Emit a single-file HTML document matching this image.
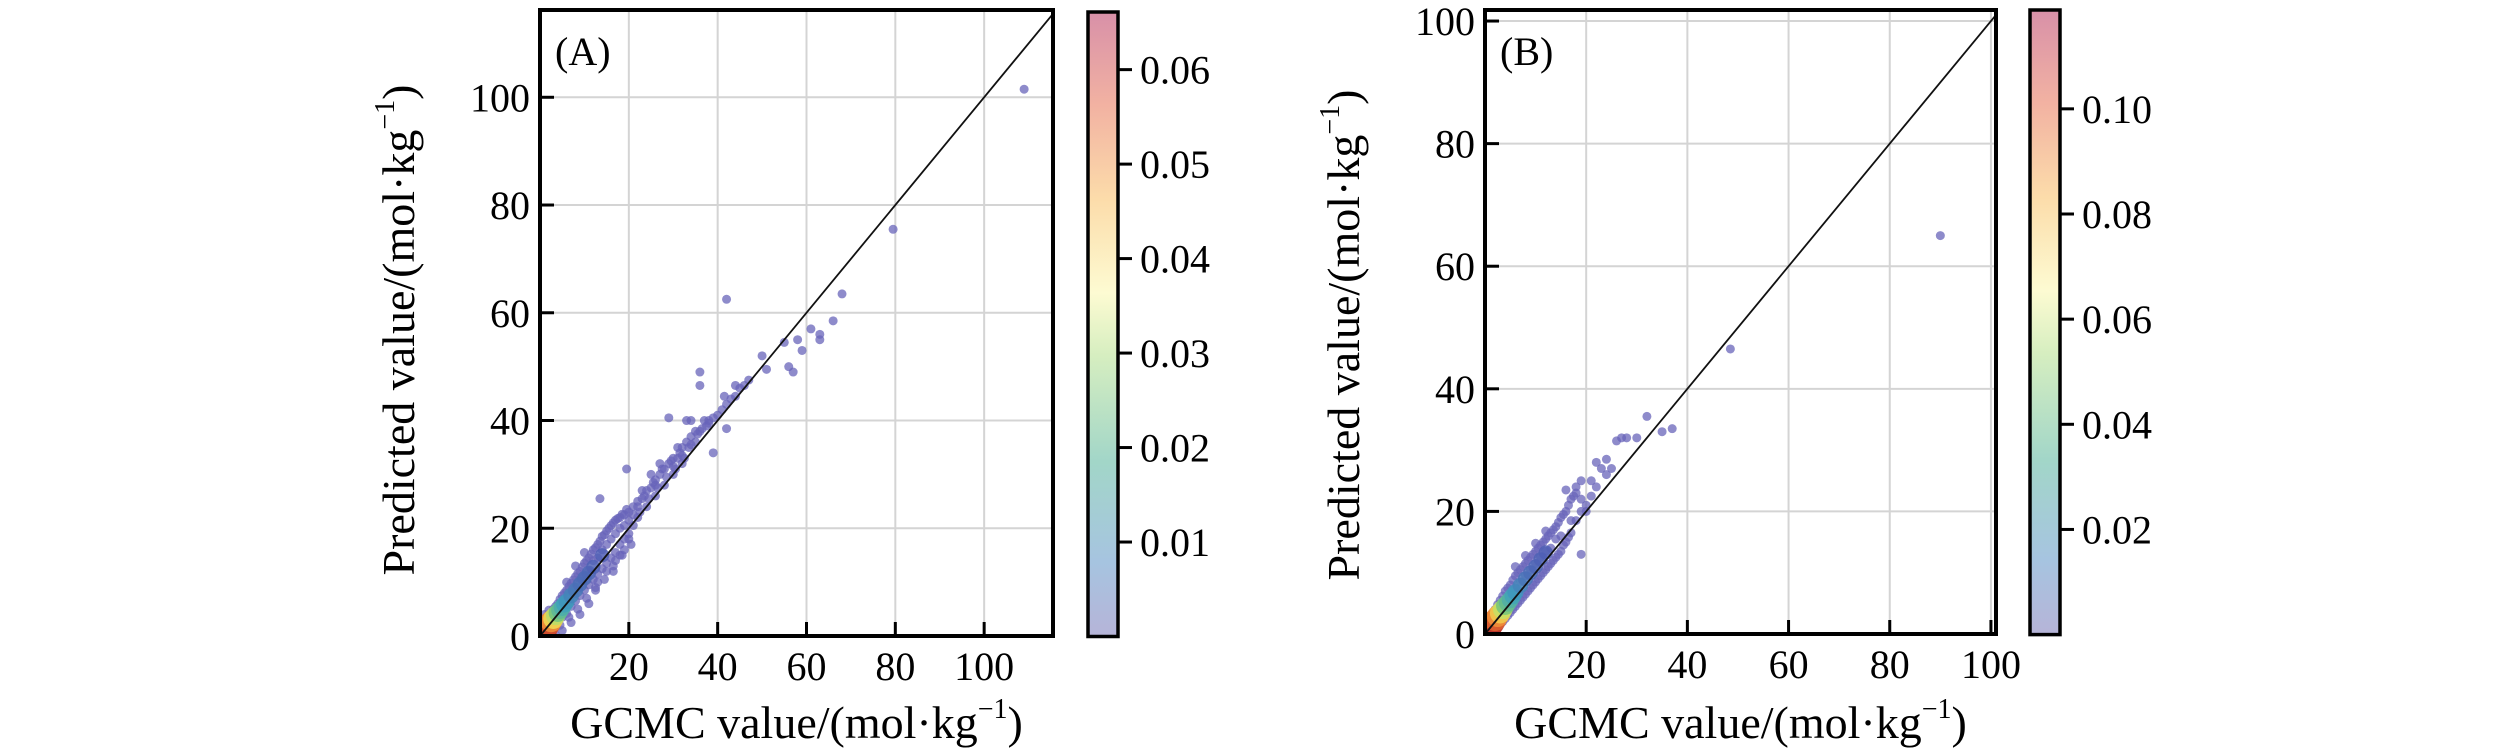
<!DOCTYPE html>
<html><head><meta charset="utf-8"><style>
body{margin:0;background:#fff;width:2520px;height:756px;overflow:hidden}
svg{display:block}
text{font-family:"Liberation Serif",serif;fill:#000}
</style></head><body>
<svg id="fig" width="2520" height="756" xmlns="http://www.w3.org/2000/svg">
<defs>
<linearGradient id="cmap" x1="0" y1="1" x2="0" y2="0">
<stop offset="0" stop-color="#b6b4d8"/><stop offset="0.12" stop-color="#a6c4e0"/><stop offset="0.28" stop-color="#a2d6c8"/>
<stop offset="0.45" stop-color="#d6eec0"/><stop offset="0.55" stop-color="#fdfbd2"/><stop offset="0.7" stop-color="#fcdcaa"/>
<stop offset="0.85" stop-color="#f2b2a2"/><stop offset="1" stop-color="#d890a8"/></linearGradient>
</defs>
</svg>
<script>
const aXTicks=[20,40,60,80,100], aYTicks=[0,20,40,60,80,100], aCbTicks=[0.01,0.02,0.03,0.04,0.05,0.06];
const bXTicks=[20,40,60,80,100], bYTicks=[0,20,40,60,80,100], bCbTicks=[0.02,0.04,0.06,0.08,0.10];
const aCore=[[0.5,0.6,.066],[1,1.1,.065],[1.5,1.6,.062],[2,2.2,.058],[2.5,2.7,.05],[3,3.2,.042],[3.5,3.8,.035],[4,4.3,.028],[4.5,4.8,.024],[5,5.3,.02],[5.5,5.9,.017],[6,6.4,.014],[7,7.5,.01],[8,8.5,.007],[9,9.6,.005],[10,10.7,.004],[11,11.7,.003],[12,12.8,.002],[14,15,.001]];
const aCloud=[[1,2.5],[1.5,0.3],[2,3.8],[2.5,1],[3,5],[3,1.5],[4,6],[4,2.5],[5,7.5],[5,3.5],[6,8.5],[6,4.2],[7,9.8],[7,5.5],[8,11],[8,6.5],[9,12],[9,7.5],[10,13.5],[10,8.5],[11,14.5],[11,9.5],[12,16],[12,10.5],[13,17],[13,11.5],[14,18.5],[14,12.5],[15,19.5],[15,13.5],[16,20.5],[16,14.5],[17,21.5],[17,15.5],[18,22],[18,17],[19,22.5],[19,18],[20,23],[20,19],[21,24],[21,20.5],[22,25],[22,22],[24,27],[24,24],[26,29],[26,26],[28,31],[28,28],[30,33],[30,30],[32,35],[32,32],[34,37],[35,36],[37,40],[38,40],[40,41],[42,43],[45,46],[47,47.5],[13.5,25.5],[19.5,31],[34,40],[36,49],[36,46.5],[42,62.5],[39,34],[42,38.5],[41.5,44.5],[44,46.5],[50,52],[51,49.5],[55,54.5],[56,50],[57,49],[58,55],[59,53],[61,57],[63,56],[63,55],[66,58.5],[68,63.5],[79.5,75.5],[109,101.5],[29,40.5],[33,40],[31,35],[27,32],[25,30],[23,27],[20,18],[19,16],[18,15],[16.5,13],[11,6],[12.5,9],[9,4],[7,2.5],[5,1],[3.5,0.2],[2,4.8],[1,4],[6,10],[8,13],[10,15.5],[22,24],[26,28],[30,31.5],[32,33.5],[34,35.5],[36,38],[38,39.5],[14,16],[16,18],[18,20],[12,14],[10,11],[8,9],[13,10],[15,12],[17,14],[20,21.5],[21,22.5],[23,25.5],[25,27.5],[27,30],[29,32],[31,33],[33,36],[35,38],[11,12],[13,14.5],[15,17],[17,19],[19,20.5],[9,10.5],[7,8],[5,6],[4,4.8],[3,3.8],[1.5,3.2],[2.5,4.3],[3.5,5.5],[4.5,6.8],[5.5,8],[6.5,9.2],[7.5,10.4],[8.5,11.6],[9.5,12.8],[10.5,14],[11.5,15.2],[12.5,16.4],[13.5,17.6],[14.5,18.8],[15.5,20],[16.5,21],[17.5,21.8],[18.5,22.6],[19.5,23.5],[2.5,0.5],[4.5,2],[6.5,3.5],[8.5,5],[10.5,7],[12.5,8.5],[14.5,10.5],[16.5,12],[18.5,15],[20.5,17],[22.5,23],[23.5,26],[24.5,25.5],[25.5,28.5],[26.5,27.5],[27.5,31],[28.5,29.5],[29.5,32.5],[30.5,31],[31.5,34],[32.5,33],[33.5,35],[35.5,37.5],[36.5,38.5],[37.5,39],[39,40.5],[41,42],[43,44],[44,44.5],[46,46.5]];
const bCore=[[0.5,0.6,.118],[1,1.1,.115],[1.5,1.7,.11],[2,2.3,.1],[2.5,2.9,.09],[3,3.4,.078],[3.5,4,.065],[4,4.6,.052],[4.5,5.1,.045],[5,5.6,.038],[5.5,6.2,.032],[6,6.8,.026],[7,7.9,.018],[8,9,.012],[9,10,.008],[10,11,.005],[11,12.2,.003],[12,13.3,.002]];
const bCloud=[[1,2.5],[1.5,0.3],[2,4],[2.5,1],[3,5.5],[3,1.5],[4,7],[4,2.5],[5,8],[5,3.5],[6,9.5],[6,4.5],[7,10.5],[7,5.5],[8,11.5],[8,6.5],[9,12.5],[9,7.5],[10,13.5],[10,8.5],[11,14.5],[11,9.5],[12,15.5],[12,10.5],[13,16.5],[13,11.5],[14,17.5],[14,12.5],[15,19],[15,13.5],[16,20],[16,15],[17,22],[17,16.5],[18,23],[18,18.5],[19,25],[19,20],[20,21],[21,22.5],[22,28],[22,24],[24,26],[24,28.5],[25,27],[26,31.5],[27,32],[28,32],[30,32],[32,35.5],[35,33],[37,33.5],[48.5,46.5],[90,65],[19,13],[16,23.5],[18,24],[20,20],[13,14],[11,12.5],[9,10.5],[7,8.5],[5,6.5],[3,4],[15,16],[17,18.5],[14,15.5],[12,13.5],[10,11.5],[8,9.5],[6,7.5],[4,5],[21,25],[23,27],[19,22],[6,11],[8,12.8],[10,14.8],[12,16.8],[1.5,3.3],[2.5,4.8],[3.5,6.2],[4.5,7.5],[5.5,8.8],[6.5,10],[7.5,11],[8.5,12],[9.5,13],[10.5,14],[11.5,15],[12.5,16],[13.5,17],[14.5,18.2],[15.5,19.5],[16.5,21],[17.5,22.5],[2,0.6],[3.5,2],[4.5,3],[5.5,4],[6.5,5],[7.5,6],[8.5,7],[9.5,8],[10.5,9],[11.5,10],[12.5,11],[13.5,12],[14.5,13],[15.5,14.5],[16.5,15.8]];

const svg=document.getElementById('fig');
const NS='http://www.w3.org/2000/svg';
function mk(tag,attrs,parent){const e=document.createElementNS(NS,tag);for(const k in attrs)e.setAttribute(k,attrs[k]);(parent||svg).appendChild(e);return e;}
function coreColor(t){
  const s=[[0,[80,90,180]],[0.25,[60,160,190]],[0.45,[120,200,120]],[0.6,[240,240,90]],[0.8,[240,120,50]],[1,[160,20,40]]];
  for(let i=1;i<s.length;i++){if(t<=s[i][0]){const a=s[i-1],b=s[i],f=(t-a[0])/(b[0]-a[0]);return `rgb(${a[1].map((v,j)=>Math.round(v+(b[1][j]-v)*f))})`;}}return 'rgb(160,20,40)';}

function panel(cfg){
  const g=mk('g',{});
  
  
  const X=v=>cfg.x0+v*(cfg.x1-cfg.x0)/cfg.xmax, Y=v=>cfg.y1-v*(cfg.y1-cfg.y0)/cfg.ymax;
  cfg.xt.forEach(t=>{const l=mk('line',{x1:X(t),x2:X(t),y1:cfg.y0,y2:cfg.y1,stroke:'#d4d4d4','stroke-width':2},g);});
  cfg.yt.forEach(t=>{if(t===0)return;const l=mk('line',{x1:cfg.x0,x2:cfg.x1,y1:Y(t),y2:Y(t),stroke:'#d4d4d4','stroke-width':2},g);});
  const cid='clip'+cfg.name;const cp=mk('clipPath',{id:cid},g);mk('rect',{x:cfg.x0,y:cfg.y0,width:cfg.x1-cfg.x0,height:cfg.y1-cfg.y0},cp);
  const pts=mk('g',{'clip-path':`url(#${cid})`},g);
  
  
  cfg.cloud.forEach(p=>{const c=mk('circle',{cx:X(p[0]),cy:Y(p[1]),r:4.5,fill:'rgb(104,100,186)','fill-opacity':0.75},pts);});
  cfg.core.forEach(p=>{const t=p[2]/cfg.cmax;const c=mk('circle',{cx:X(p[0]),cy:Y(p[1]),r:7+5*t,fill:coreColor(t),'fill-opacity':0.85},pts);});
  const m=Math.min(cfg.xmax,cfg.ymax);
  const d=mk('line',{x1:X(0),y1:Y(0),x2:X(m),y2:Y(m),stroke:'#111','stroke-width':1.8},g);
  
  const f=mk('rect',{x:cfg.x0,y:cfg.y0,width:cfg.x1-cfg.x0,height:cfg.y1-cfg.y0,fill:'none',stroke:'#000','stroke-width':4},g);
  
  cfg.xt.forEach(t=>{mk('line',{x1:X(t),x2:X(t),y1:cfg.y1,y2:cfg.y1-14,stroke:'#000','stroke-width':3},g);
    const tx=mk('text',{x:X(t),y:cfg.y1+44,'font-size':40,'text-anchor':'middle'},g);tx.textContent=t;
    });
  cfg.yt.forEach(t=>{mk('line',{x1:cfg.x0,x2:cfg.x0+14,y1:Y(t),y2:Y(t),stroke:'#000','stroke-width':3},g);
    const tx=mk('text',{x:cfg.x0-10,y:Y(t)+14,'font-size':40,'text-anchor':'end'},g);tx.textContent=t;
    });
  const pl=mk('text',{x:cfg.x0+15,y:cfg.y0+55,'font-size':40},g);pl.textContent=cfg.label;
  
  const xl=mk('text',{x:(cfg.x0+cfg.x1)/2,y:738,'font-size':46,'text-anchor':'middle'},g);
  xl.innerHTML='GCMC value/(mol·kg<tspan font-size="28" dy="-20">−1</tspan><tspan dy="20">)</tspan>';
  
  const yl=mk('text',{x:0,y:0,'font-size':46,'text-anchor':'middle',transform:`translate(${cfg.ylx},${cfg.yly}) rotate(-90)`},g);
  yl.innerHTML='Predicted value/(mol·kg<tspan font-size="28" dy="-20">−1</tspan><tspan dy="20">)</tspan>';
  
  const cb=mk('g',{},g);
  mk('rect',{x:cfg.cbx,y:cfg.cby0,width:30,height:cfg.cby1-cfg.cby0,fill:'url(#cmap)',stroke:'#000','stroke-width':3.5},cb);
  const CY=v=>cfg.cby1-v*(cfg.cby1-cfg.cby0)/cfg.cmax;
  cfg.ct.forEach(t=>{mk('line',{x1:cfg.cbx+30,x2:cfg.cbx+44,y1:CY(t),y2:CY(t),stroke:'#000','stroke-width':3},cb);
    const tx=mk('text',{x:cfg.cbx+52,y:CY(t)+14,'font-size':40},cb);tx.textContent=t.toFixed(2);
    });
}
panel({name:'panel-a',label:'(A)',x0:540,x1:1053,y0:10,y1:636,xmax:115.5,ymax:116.2,xt:aXTicks,yt:aYTicks,cloud:aCloud,core:aCore,cmax:0.0661,ct:aCbTicks,cbx:1088,cby0:12,cby1:636.5,ylx:414,yly:330});
panel({name:'panel-b',label:'(B)',x0:1485,x1:1996,y0:10,y1:634,xmax:101,ymax:101.8,xt:bXTicks,yt:bYTicks,cloud:bCloud,core:bCore,cmax:0.1188,ct:bCbTicks,cbx:2030,cby0:10,cby1:634.6,ylx:1359,yly:335});
</script>
</body></html>
